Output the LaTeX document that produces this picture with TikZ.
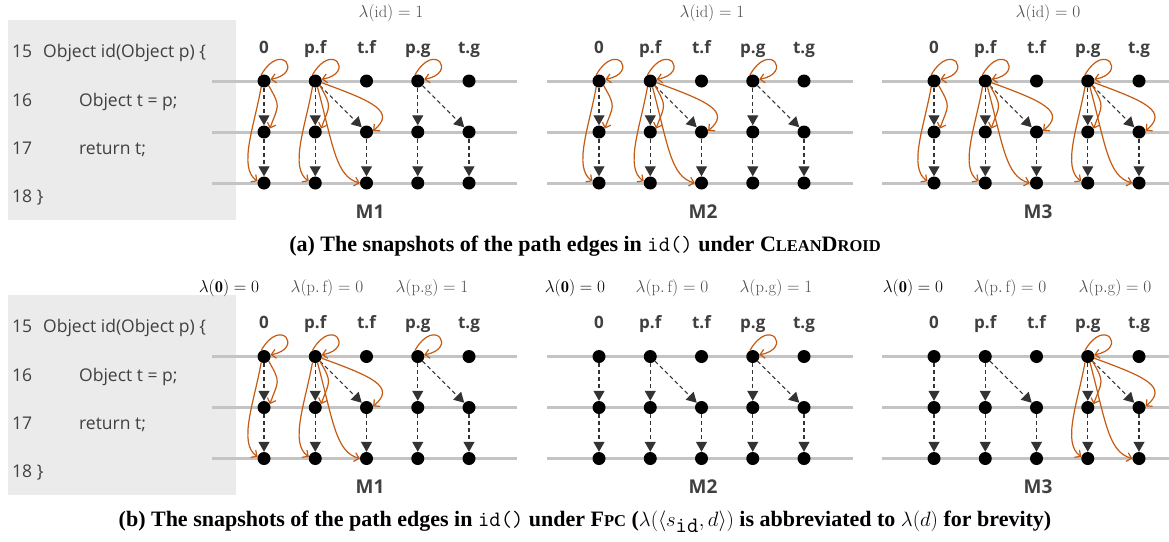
\documentclass[tikz,border=0pt]{standalone}
\usepackage{fontspec}
\setsansfont{Open Sans}
\newfontfamily\capfont{Liberation Serif}
\usetikzlibrary{arrows.meta}
\definecolor{codebg}{HTML}{EBEBEB}
\definecolor{hl}{HTML}{C4C4C4}
\definecolor{txtgray}{HTML}{404040}
\definecolor{arrgray}{HTML}{333333}
\definecolor{orng}{HTML}{C55A11}
\definecolor{lamgray}{HTML}{4D4D4D}
\tikzset{
  hline/.style={draw=hl, line width=3pt},
  dot/.style={circle, fill=black, inner sep=0pt, minimum size=13pt},
  darr/.style={draw=arrgray, line width=1.1pt, dash pattern=on 4pt off 3pt, -{Triangle[length=10pt,width=11pt]}},
  oarr/.style={draw=orng, line width=1.2pt, -{Straight Barb[length=4.5pt,width=9pt]}},
  codetxt/.style={anchor=base west, inner sep=0pt, text=txtgray, font=\sffamily\fontsize{17.5}{20}\selectfont},
  hdr/.style={anchor=base, inner sep=0pt, text=txtgray, font=\sffamily\bfseries\fontsize{17}{20}\selectfont},
  mlab/.style={anchor=base, inner sep=0pt, text=txtgray, font=\sffamily\bfseries\fontsize{19}{22}\selectfont},
  lam/.style={anchor=base, inner sep=0pt, text=lamgray, font=\fontsize{16.5}{18}\selectfont},
  captxt/.style={anchor=base, inner sep=0pt, text=black, font=\capfont\bfseries\fontsize{22}{25}\selectfont},
}
\newcommand\fsc[1]{{\fontsize{16.5}{18}\selectfont #1}}
% panel: #1 prefix, #2 x0, #3 y0 (negative), #4 right end of lines
\newcommand\mkpanel[4]{%
  \foreach \r in {1,2,3} {\draw[hline] ({#2-52},{#3-(\r-1)*51}) -- ({#4},{#3-(\r-1)*51});}
  \foreach \c/\t in {0/0,1/p.f,2/t.f,3/p.g,4/t.g} {%
    \node[hdr] (#1-h\c) at ({#2+\c*51.25},{#3+27.7}) {\t};
    \foreach \r in {1,2,3} {\node[dot] (#1-\c-\r) at ({#2+\c*51.25},{#3-(\r-1)*51}) {};}
  }
  \foreach \c in {0,1,3} {\draw[darr] (#1-\c-1) -- (#1-\c-2);}
  \draw[darr] (#1-1-1) -- (#1-2-2);
  \draw[darr] (#1-3-1) -- (#1-4-2);
  \foreach \c in {0,...,4} {\draw[darr] (#1-\c-2) -- (#1-\c-3);}
}
\newcommand\oloop[1]{\draw[oarr] (#1.115) .. controls +(60:40) and +(10:34) .. (#1.15);}
\newcommand\ordown[2]{\draw[oarr] (#1.-45) .. controls +(-60:25) and +(70:25) .. (#2.30);}
\newcommand\olong[2]{\draw[oarr] (#1.-115) .. controls +(-100:40) and +(145:24) .. (#2.165);}
\newcommand\oarc[2]{\draw[oarr] (#1.-15) .. controls +(-20:55) and +(40:30) .. (#2.10);}
\newcommand\odiag[2]{\draw[oarr] (#1.-70) .. controls +(-75:60) and +(165:25) .. (#2.180);}
\newcommand\ofull[3]{\oloop{#1-#2-1}\ordown{#1-#2-1}{#1-#2-2}\olong{#1-#2-1}{#1-#2-3}\oarc{#1-#2-1}{#1-#3-2}\odiag{#1-#2-1}{#1-#3-3}}
\newcommand\ozero[1]{\oloop{#1-0-1}\ordown{#1-0-1}{#1-0-2}\olong{#1-0-1}{#1-0-3}}
\newcommand\codeblock[2]{% #1 prefix, #2 y offset
  \fill[codebg] (8,{-20-#2}) rectangle (236,{-220-#2});
  \node[codetxt] (#1n15) at (12,{-57.5-#2}) {15};
  \node[codetxt] (#1c15) at (43,{-57.5-#2}) {Object id(Object p) \{};
  \node[codetxt] (#1n16) at (12,{-106-#2}) {16};
  \node[codetxt] (#1c16) at (79,{-106-#2}) {Object t = p;};
  \node[codetxt] (#1n17) at (12,{-154-#2}) {17};
  \node[codetxt] (#1c17) at (79,{-154-#2}) {return t;};
  \node[codetxt] (#1n18) at (12,{-202-#2}) {18 \}};
}
\begin{document}
\begin{tikzpicture}[x=1pt,y=1pt]
\useasboundingbox[fill=white] (0,0) rectangle (1169,-541);
% ---------- (a) ----------
\codeblock{a}{0}
\mkpanel{a1}{264}{-81}{517}
\mkpanel{a2}{599}{-81}{853}
\mkpanel{a3}{934}{-81}{1169}
\ozero{a1}\ofull{a1}{1}{2}\oloop{a1-3-1}
\ozero{a2}\ofull{a2}{1}{2}\oloop{a2-3-1}
\ozero{a3}\ofull{a3}{1}{2}\ofull{a3}{3}{4}
\node[lam] (la1) at (391,-17.3) {$\lambda(\mathrm{id}) = 1$};
\node[lam] (la2) at (712,-17.3) {$\lambda(\mathrm{id}) = 1$};
\node[lam] (la3) at (1048,-17.3) {$\lambda(\mathrm{id}) = 0$};
\node[mlab] (ma1) at (370,-218.3) {M1};
\node[mlab] (ma2) at (703,-218.3) {M2};
\node[mlab] (ma3) at (1038,-218.3) {M3};
\node[captxt] (capa) at (585,-251) {(a) The snapshots of the path edges in \texttt{\mdseries id()} under C\fsc{LEAN}D\fsc{ROID}};
% ---------- (b) ----------
\codeblock{b}{275}
\mkpanel{b1}{264}{-356.5}{517}
\mkpanel{b2}{599}{-356.5}{853}
\mkpanel{b3}{934}{-356.5}{1169}
\ozero{b1}\ofull{b1}{1}{2}\oloop{b1-3-1}
\oloop{b2-3-1}
\ofull{b3}{3}{4}
\node[lam, text=black] (lb10) at (229,-292.5) {$\lambda(\mathbf{0}) = 0$};
\node[lam] (lb1f) at (327,-292.5) {$\lambda(\mathrm{p.\,f}) = 0$};
\node[lam] (lb1g) at (432,-292.5) {$\lambda(\mathrm{p.g}) = 1$};
\node[lam, text=black] (lb20) at (575,-292.5) {$\lambda(\mathbf{0}) = 0$};
\node[lam] (lb2f) at (672,-292.5) {$\lambda(\mathrm{p.\,f}) = 0$};
\node[lam] (lb2g) at (776,-292.5) {$\lambda(\mathrm{p.g}) = 1$};
\node[lam, text=black] (lb30) at (913,-292.5) {$\lambda(\mathbf{0}) = 0$};
\node[lam] (lb3f) at (1010,-292.5) {$\lambda(\mathrm{p.\,f}) = 0$};
\node[lam] (lb3g) at (1115,-292.5) {$\lambda(\mathrm{p.g}) = 0$};
\node[mlab] (mb1) at (370,-493.3) {M1};
\node[mlab] (mb2) at (703,-493.3) {M2};
\node[mlab] (mb3) at (1038,-493.3) {M3};
\node[captxt] (capb) at (585,-526) {(b) The snapshots of the path edges in \texttt{\mdseries id()} under F\fsc{PC} ($\lambda(\langle s_{\texttt{\mdseries id}}, d\rangle)$ is abbreviated to $\lambda(d)$ for brevity)};
\end{tikzpicture}
\end{document}
